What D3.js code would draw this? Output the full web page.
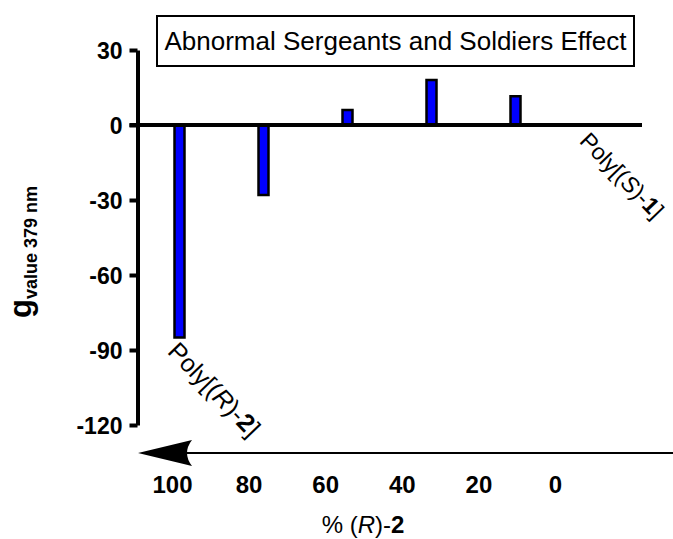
<!DOCTYPE html>
<html>
<head>
<meta charset="utf-8">
<script src="https://cdn.jsdelivr.net/npm/d3@7"></script>
<style>
  body { margin: 0; background: #fff; }
  svg { display: block; font-family: Arial, "Liberation Sans", sans-serif; }
</style>
</head>
<body>
<svg id="chart" width="673" height="539"></svg>
<script>
// data
var categories = [100, 80, 60, 40, 20, 0];
var values = [-85, -28, 6, 18, 11.5, 0];
var yTicks = [30, 0, -30, -60, -90, -120];
var titleText = 'Abnormal Sergeants and Soldiers Effect';

var svg = d3.select('#chart');

// scales
var y = d3.scaleLinear().domain([-120, 30]).range([425, 50]);
var xBar = d3.scalePoint().domain(categories).range([179.5, 599.5]);
var xLab = d3.scalePoint().domain(categories).range([172, 555]);
var axisX = 137.5;

// y axis
var yAxis = svg.append('g')
    .attr('transform', 'translate(' + axisX + ',0)')
    .call(d3.axisLeft(y).tickValues(yTicks).tickSize(8).tickSizeOuter(0).tickPadding(7)
        .tickFormat(function (d) { return String(d) }))
yAxis.select('.domain').attr('stroke-width', 4)
yAxis.selectAll('.tick line').attr('stroke-width', 4)
yAxis.selectAll('.tick text')
    .attr('font-size', 23).attr('font-weight', 'bold')
    .attr('font-family', 'Arial, Liberation Sans, sans-serif')
    .attr('fill', '#000')
    .attr('dy', '0.36em')

// y label with subscript
var ylab = svg.append('text')
    .attr('transform', 'translate(31,' + 252 + ') rotate(-90)')
    .attr('text-anchor', 'middle')
    .attr('font-weight', 'bold')
ylab.append('tspan').attr('font-size', 31).text('g')
ylab.append('tspan').attr('font-size', 18).attr('dy', 6).text('value 379 nm')

// bars
svg.append('g')
    .selectAll('rect')
    .data(values)
    .enter()
    .append('rect')
    .filter(function (d) { return d != 0 })
    .attr('x', function (d) { return xBar(categories[values.indexOf(d)]) - 5 })
    .attr('width', 10)
    .attr('y', function (d) { return Math.min(y(d), y(0)) })
    .attr('height', function (d) { return Math.abs(y(d) - y(0)) })
    .attr('fill', '#0000ff')
    .attr('stroke', '#000')
    .attr('stroke-width', 2.5)

// zero line
svg.append('line')
    .attr('x1', axisX - 8).attr('x2', 642)
    .attr('y1', y(0)).attr('y2', y(0))
    .attr('stroke', '#000').attr('stroke-width', 4)

// title box
svg.append('rect')
    .attr('x', 157).attr('y', 16).attr('width', 477).attr('height', 50)
    .attr('fill', '#fff').attr('stroke', '#000').attr('stroke-width', 2)
svg.append('text')
    .attr('x', 395.5).attr('y', 50)
    .attr('text-anchor', 'middle')
    .attr('font-size', 26)
    .text(titleText)

// rotated end labels
function polyLabel(x0, y0, letter, num, size) {
    var t = svg.append('text')
        .attr('transform', 'translate(' + x0 + ',' + y0 + ') rotate(46)')
        .attr('font-size', size)
    t.append('tspan').text('Poly[(')
    t.append('tspan').attr('font-style', 'italic').text(letter)
    t.append('tspan').text(')-')
    t.append('tspan').attr('font-weight', 'bold').text(num)
    t.append('tspan').text(']')
}
polyLabel(xBar(100) - 13, y(values[0]) + 15, 'R', '2', 25)
polyLabel(xBar(0) - 21, y(0) + 17, 'S', '1', 23)

// arrow below the plot
var arrowY = 453;
svg.append('line')
    .attr('x1', 673).attr('x2', 180)
    .attr('y1', arrowY).attr('y2', arrowY)
    .attr('stroke', '#000').attr('stroke-width', 2)
svg.append('path')
    .attr('d', 'M138,' + arrowY + ' L192,' + (arrowY - 13) + ' Q182,' + arrowY + ' 192,' + (arrowY + 13) + ' Z')
    .attr('fill', '#000')

// x tick labels
var xAxis = svg.append('g')
    .attr('transform', 'translate(0,476)')
    .call(d3.axisBottom(xLab).tickSize(0).tickPadding(0))
xAxis.select('.domain').remove()
xAxis.selectAll('.tick text')
    .attr('font-size', 24).attr('font-weight', 'bold')
    .attr('font-family', 'Arial, Liberation Sans, sans-serif')
    .attr('fill', '#000')

// x label
var xl = svg.append('text')
    .attr('x', 363).attr('y', 533)
    .attr('text-anchor', 'middle')
    .attr('font-size', 24)
xl.append('tspan').text('% (')
xl.append('tspan').attr('font-style', 'italic').text('R')
xl.append('tspan').text(')-')
xl.append('tspan').attr('font-weight', 'bold').text('2')
</script>
</body>
</html>
